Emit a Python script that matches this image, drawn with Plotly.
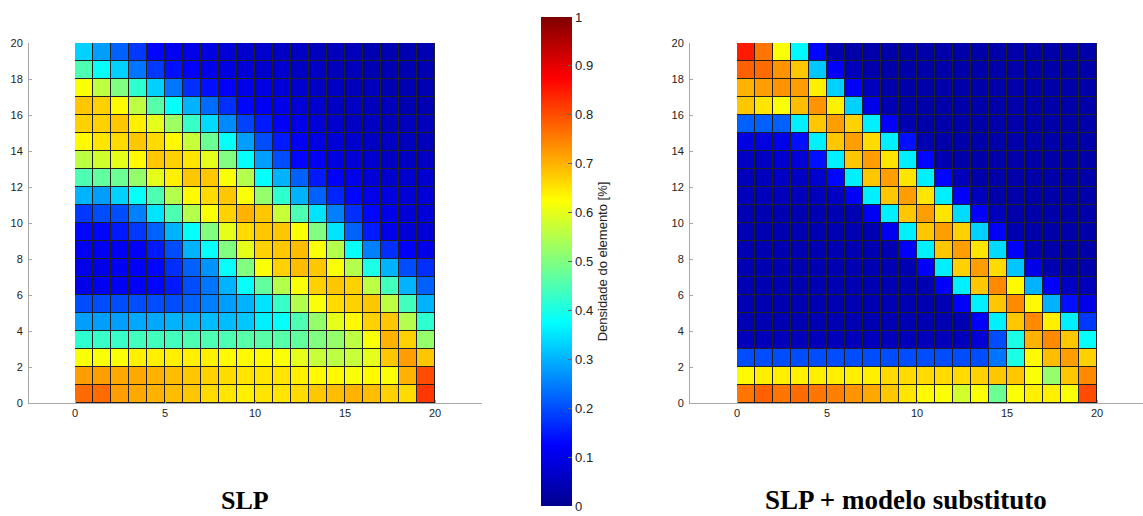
import plotly.graph_objects as go

# ---------------- data (rows listed from top y=19 down to bottom y=0) ----------------
slp_rows_top_down = [
    [0.33,0.28,0.22,0.18,0.13,0.11,0.10,0.09,0.08,0.07,0.07,0.06,0.06,0.05,0.05,0.05,0.04,0.04,0.04,0.04],
    [0.45,0.38,0.33,0.24,0.18,0.14,0.12,0.10,0.09,0.08,0.07,0.07,0.06,0.06,0.05,0.05,0.04,0.04,0.04,0.04],
    [0.62,0.56,0.50,0.42,0.33,0.24,0.17,0.14,0.12,0.10,0.09,0.08,0.07,0.06,0.06,0.05,0.05,0.04,0.04,0.04],
    [0.68,0.67,0.63,0.56,0.46,0.38,0.30,0.23,0.17,0.13,0.11,0.10,0.08,0.07,0.06,0.06,0.05,0.05,0.04,0.04],
    [0.67,0.67,0.68,0.64,0.60,0.53,0.43,0.34,0.26,0.19,0.15,0.12,0.10,0.08,0.07,0.06,0.06,0.05,0.05,0.05],
    [0.63,0.65,0.66,0.68,0.66,0.63,0.57,0.48,0.38,0.28,0.20,0.15,0.11,0.09,0.08,0.07,0.06,0.06,0.05,0.05],
    [0.56,0.58,0.60,0.63,0.68,0.67,0.65,0.60,0.50,0.38,0.28,0.20,0.13,0.11,0.09,0.08,0.07,0.06,0.06,0.06],
    [0.45,0.47,0.48,0.52,0.60,0.64,0.68,0.68,0.62,0.55,0.38,0.30,0.22,0.15,0.12,0.10,0.08,0.07,0.07,0.07],
    [0.30,0.28,0.33,0.38,0.45,0.55,0.63,0.66,0.68,0.62,0.52,0.42,0.30,0.22,0.16,0.13,0.10,0.09,0.08,0.08],
    [0.18,0.20,0.20,0.25,0.35,0.45,0.55,0.62,0.67,0.70,0.68,0.57,0.45,0.35,0.25,0.17,0.13,0.10,0.08,0.08],
    [0.13,0.13,0.15,0.18,0.22,0.30,0.38,0.50,0.60,0.66,0.68,0.68,0.62,0.50,0.35,0.22,0.15,0.10,0.08,0.08],
    [0.11,0.11,0.11,0.12,0.15,0.20,0.30,0.38,0.50,0.60,0.67,0.68,0.69,0.62,0.55,0.38,0.25,0.17,0.12,0.10],
    [0.10,0.10,0.11,0.12,0.13,0.17,0.22,0.27,0.38,0.50,0.62,0.67,0.69,0.68,0.62,0.55,0.40,0.30,0.20,0.17],
    [0.10,0.11,0.11,0.12,0.13,0.15,0.20,0.24,0.30,0.38,0.47,0.55,0.62,0.67,0.68,0.67,0.56,0.44,0.30,0.22],
    [0.20,0.20,0.20,0.20,0.20,0.20,0.22,0.25,0.28,0.30,0.35,0.43,0.55,0.62,0.66,0.67,0.68,0.56,0.44,0.30],
    [0.28,0.28,0.28,0.29,0.29,0.30,0.30,0.31,0.31,0.32,0.36,0.38,0.45,0.52,0.60,0.63,0.67,0.68,0.55,0.42],
    [0.42,0.43,0.43,0.44,0.44,0.44,0.45,0.45,0.45,0.46,0.46,0.46,0.47,0.50,0.52,0.56,0.62,0.70,0.67,0.52],
    [0.62,0.62,0.62,0.64,0.64,0.64,0.64,0.64,0.63,0.63,0.63,0.62,0.60,0.57,0.56,0.57,0.60,0.68,0.72,0.68],
    [0.72,0.72,0.71,0.71,0.70,0.69,0.68,0.67,0.66,0.65,0.65,0.65,0.64,0.63,0.63,0.62,0.63,0.62,0.70,0.80],
    [0.77,0.77,0.72,0.71,0.70,0.69,0.68,0.66,0.65,0.64,0.65,0.65,0.66,0.68,0.69,0.70,0.69,0.67,0.66,0.82],
]

sur_rows_top_down = [
    [0.85,0.76,0.62,0.37,0.13,0.04,0.03,0.03,0.03,0.03,0.03,0.03,0.03,0.03,0.03,0.03,0.03,0.03,0.03,0.03],
    [0.78,0.77,0.73,0.68,0.32,0.12,0.05,0.03,0.03,0.03,0.03,0.03,0.03,0.03,0.03,0.03,0.03,0.03,0.03,0.03],
    [0.70,0.72,0.73,0.72,0.64,0.33,0.12,0.05,0.03,0.03,0.03,0.03,0.03,0.03,0.03,0.03,0.03,0.03,0.03,0.03],
    [0.68,0.65,0.62,0.69,0.73,0.64,0.33,0.10,0.04,0.03,0.03,0.03,0.03,0.03,0.03,0.03,0.03,0.03,0.03,0.03],
    [0.22,0.22,0.22,0.36,0.68,0.72,0.67,0.36,0.12,0.04,0.03,0.03,0.03,0.03,0.03,0.03,0.03,0.03,0.03,0.03],
    [0.09,0.09,0.10,0.14,0.36,0.68,0.72,0.66,0.36,0.14,0.04,0.03,0.03,0.03,0.03,0.03,0.03,0.03,0.03,0.03],
    [0.06,0.06,0.07,0.08,0.14,0.36,0.68,0.72,0.65,0.36,0.13,0.04,0.03,0.03,0.03,0.03,0.03,0.03,0.03,0.03],
    [0.05,0.05,0.06,0.06,0.07,0.13,0.36,0.68,0.72,0.65,0.36,0.13,0.05,0.03,0.03,0.03,0.03,0.03,0.03,0.03],
    [0.05,0.05,0.05,0.05,0.05,0.06,0.12,0.36,0.68,0.72,0.65,0.36,0.12,0.05,0.03,0.03,0.03,0.03,0.03,0.03],
    [0.04,0.04,0.04,0.04,0.04,0.04,0.04,0.11,0.36,0.68,0.72,0.65,0.34,0.12,0.05,0.03,0.03,0.03,0.03,0.03],
    [0.04,0.04,0.04,0.04,0.04,0.04,0.04,0.04,0.11,0.36,0.68,0.72,0.67,0.33,0.12,0.04,0.03,0.03,0.03,0.03],
    [0.04,0.04,0.04,0.04,0.04,0.04,0.04,0.04,0.04,0.12,0.36,0.68,0.72,0.65,0.34,0.12,0.04,0.03,0.03,0.03],
    [0.04,0.04,0.04,0.04,0.04,0.04,0.04,0.04,0.04,0.04,0.12,0.36,0.67,0.72,0.66,0.32,0.10,0.04,0.03,0.03],
    [0.04,0.04,0.04,0.04,0.04,0.04,0.04,0.04,0.04,0.04,0.04,0.12,0.36,0.68,0.74,0.63,0.30,0.12,0.06,0.05],
    [0.04,0.04,0.04,0.04,0.04,0.04,0.04,0.04,0.04,0.04,0.04,0.04,0.12,0.36,0.68,0.74,0.63,0.30,0.14,0.10],
    [0.04,0.04,0.04,0.04,0.04,0.04,0.04,0.04,0.04,0.04,0.04,0.04,0.04,0.12,0.36,0.68,0.74,0.64,0.36,0.18],
    [0.05,0.05,0.05,0.05,0.05,0.05,0.05,0.05,0.05,0.05,0.05,0.05,0.05,0.08,0.20,0.40,0.70,0.74,0.68,0.38],
    [0.20,0.20,0.20,0.20,0.20,0.20,0.20,0.20,0.20,0.20,0.20,0.20,0.20,0.20,0.24,0.40,0.63,0.69,0.72,0.67],
    [0.63,0.64,0.64,0.64,0.64,0.64,0.64,0.64,0.66,0.66,0.66,0.66,0.66,0.67,0.68,0.68,0.62,0.52,0.68,0.74],
    [0.76,0.78,0.76,0.77,0.76,0.75,0.73,0.71,0.68,0.65,0.63,0.62,0.58,0.62,0.48,0.62,0.64,0.64,0.62,0.80],
]

cell_centers = [i + 0.5 for i in range(20)]
x_ticks = [0, 5, 10, 15, 20]
y_ticks = [0, 2, 4, 6, 8, 10, 12, 14, 16, 18, 20]
cbar_tick_step = 0.1
titles = ["SLP", "SLP + modelo substituto"]
cbar_title = "Densidade do elemento [%]"

# ---------------- figure ----------------
W, H = 1143, 516
jet = [[0, 'rgb(0,0,143)'], [0.125, 'rgb(0,0,255)'], [0.375, 'rgb(0,255,255)'],
       [0.625, 'rgb(255,255,0)'], [0.875, 'rgb(255,0,0)'], [1, 'rgb(128,0,0)']]

slp_z = slp_rows_top_down[::-1]
sur_z = sur_rows_top_down[::-1]

fig = go.Figure()
for z, xa, ya in [(slp_z, 'x', 'y'), (sur_z, 'x2', 'y2')]:
    # dark underlay that shows through the gaps as cell edges
    fig.add_trace(go.Heatmap(x=cell_centers, y=cell_centers,
                             z=[[0] * 20 for _ in range(20)],
                             colorscale=[[0, '#202020'], [1, '#202020']],
                             showscale=False, hoverinfo='skip', xaxis=xa, yaxis=ya))
    fig.add_trace(go.Heatmap(x=cell_centers, y=cell_centers, z=z,
                             coloraxis='coloraxis', xgap=1, ygap=1,
                             xaxis=xa, yaxis=ya))

u = 18.0                 # px per cell
top_px, bot_px = 43, 403
x0_left, x0_right = 75, 737
ydom = [(H - bot_px) / H, (H - top_px) / H]
axis_common = dict(showline=True, linecolor='#a8a8a8', linewidth=1, ticks='inside',
                   ticklen=3, tickcolor='#a8a8a8', showgrid=False, zeroline=False,
                   tickfont=dict(family='Arial, Liberation Sans', size=11, color='#222'),
                   fixedrange=True)

fig.update_layout(
    width=W, height=H, margin=dict(l=0, r=0, t=0, b=0, autoexpand=False),
    paper_bgcolor='white', plot_bgcolor='white', showlegend=False,
    xaxis=dict(domain=[29 / W, 482 / W], range=[-(x0_left - 29) / u, (482 - x0_left) / u],
               tickvals=x_ticks, anchor='y', **axis_common),
    yaxis=dict(domain=ydom, range=[0, 20], tickvals=y_ticks, anchor='x',
               ticklabelstandoff=3, **axis_common),
    xaxis2=dict(domain=[690 / W, 1.0], range=[-(x0_right - 690) / u, (W - x0_right) / u],
                tickvals=x_ticks, anchor='y2', **axis_common),
    yaxis2=dict(domain=ydom, range=[0, 20], tickvals=y_ticks, anchor='x2',
                ticklabelstandoff=3, **axis_common),
    coloraxis=dict(cmin=0, cmax=1, colorscale=jet,
                   colorbar=dict(x=541 / W, xanchor='left', y=(H - 17) / H, yanchor='top',
                                 thickness=31, thicknessmode='pixels',
                                 len=489 / H, lenmode='fraction', xpad=0, ypad=0,
                                 outlinewidth=0, tickmode='linear', tick0=0, dtick=cbar_tick_step,
                                 ticks='inside', ticklen=4, tickcolor='#666',
                                 ticklabeloverflow='allow',
                                 tickfont=dict(family='Arial, Liberation Sans', size=13, color='#222'),
                                 title=dict(text=cbar_title, side='right',
                                            font=dict(family='Arial, Liberation Sans', size=13,
                                                      color='#222')))),
    annotations=[
        dict(text='<b>%s</b>' % titles[0], x=245 / W, y=(H - 500) / H, xref='paper', yref='paper',
             showarrow=False, xanchor='center', yanchor='middle',
             font=dict(family='Times New Roman, Liberation Serif', size=26, color='black')),
        dict(text='<b>%s</b>' % titles[1], x=906 / W, y=(H - 500) / H, xref='paper', yref='paper',
             showarrow=False, xanchor='center', yanchor='middle',
             font=dict(family='Times New Roman, Liberation Serif', size=27, color='black')),
    ],
)

fig.write_html("out.html", config={'displayModeBar': False},
               post_script="document.body.style.margin='0px';document.body.style.padding='0px';")
